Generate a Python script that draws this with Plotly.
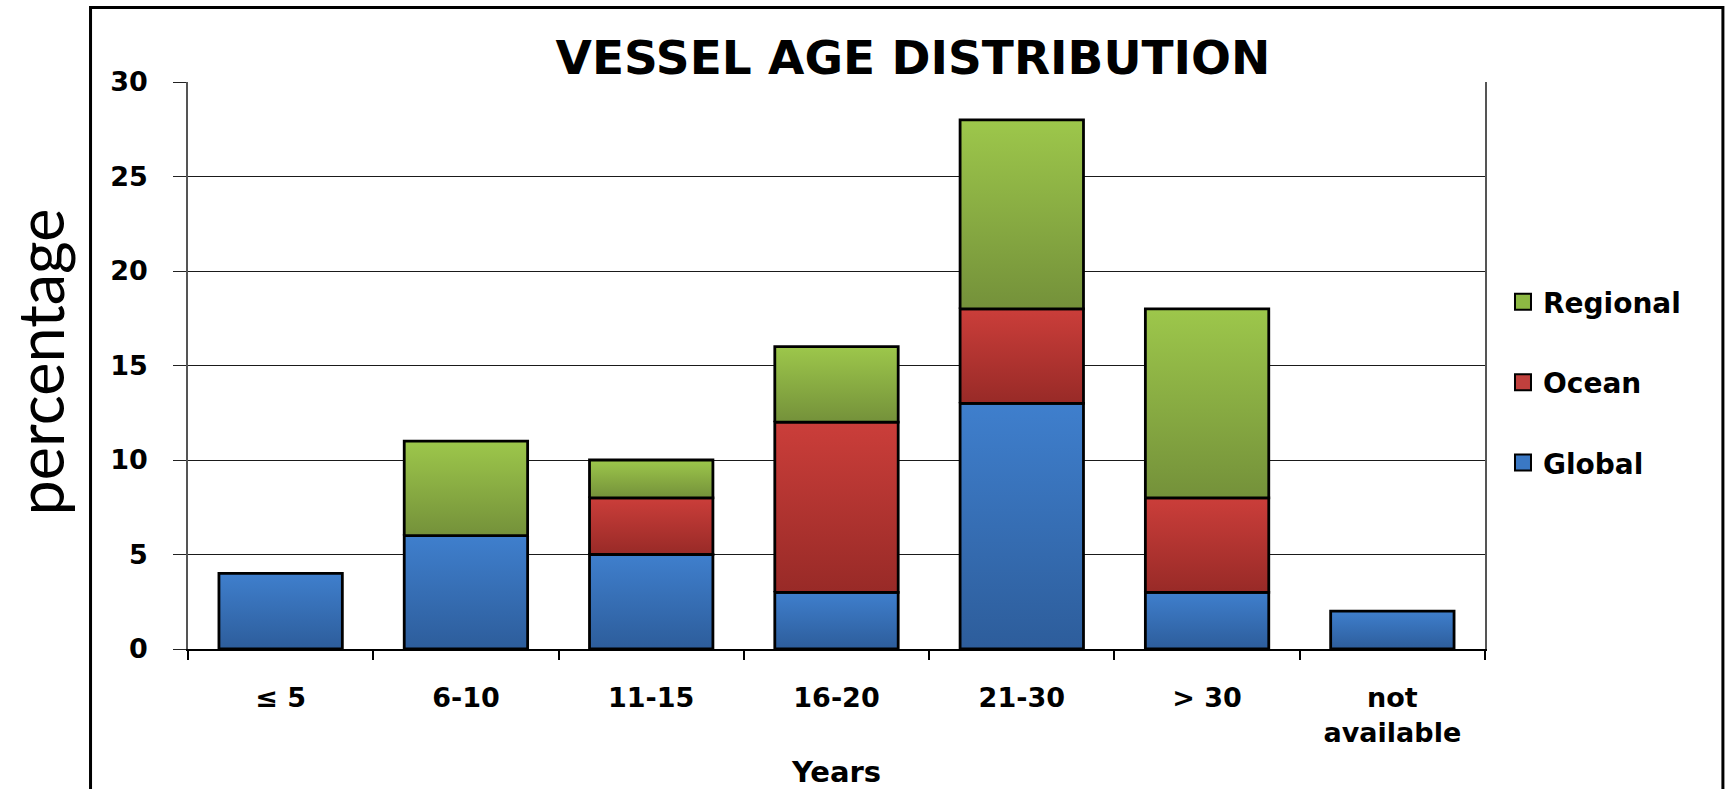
import plotly.graph_objects as go

# Age brackets and the share of vessels (%) in each, by vessel class
categories = ["≤ 5", "6-10", "11-15", "16-20", "21-30", "> 30", "not<br>available"]
global_pct = [4, 6, 5, 3, 13, 3, 2]
ocean_pct = [0, 0, 3, 9, 5, 5, 0]
regional_pct = [0, 5, 2, 4, 10, 10, 0]

series = [
    ("Global", global_pct, "#2D5D9B", "#3F7FCD", "#3A78C4"),
    ("Ocean", ocean_pct, "#982A27", "#CB3E3A", "#C0403D"),
    ("Regional", regional_pct, "#74913A", "#9DC74B", "#8DB943"),
]

W, H = 1729, 789
L, R, T, B = 187.5, 1485.0, 81.6, 649.5
BAR_W = 0.666
LABEL_FONT = "DejaVu Sans"

fig = go.Figure()

# Stacked segments as filled rectangles so each one can carry a vertical gradient
base = [0.0] * len(categories)
for name, vals, dark, light, _ in series:
    for i, v in enumerate(vals):
        if v <= 0:
            continue
        x0, x1 = i - BAR_W / 2, i + BAR_W / 2
        y0, y1 = base[i], base[i] + v
        fig.add_trace(go.Scatter(
            x=[x0, x1, x1, x0, x0], y=[y0, y0, y1, y1, y0],
            mode="lines", fill="toself",
            fillgradient=dict(type="vertical", colorscale=[[0, dark], [1, light]]),
            line=dict(color="black", width=2.8),
            name=name, legendgroup=name, showlegend=False,
            hoverinfo="text", text=f"{name}: {v}%",
        ))
        base[i] += v

# Legend entries (top to bottom: Regional, Ocean, Global)
for name, _, _, _, solid in reversed(series):
    fig.add_trace(go.Scatter(
        x=[None], y=[None], mode="markers", name=name, legendgroup=name,
        marker=dict(symbol="square", size=22, color=solid,
                    line=dict(color="black", width=2)),
    ))

pw, ph = R - L, B - T


def px_x(p):
    return (p - L) / pw


def px_y(p):
    return (B - p) / ph


fig.update_layout(
    width=W, height=H,
    margin=dict(l=L, r=W - R, t=T, b=H - B, autoexpand=False),
    paper_bgcolor="white", plot_bgcolor="white",
    showlegend=True,
    title=dict(text="VESSEL AGE DISTRIBUTION", x=913 / W, xanchor="center",
               y=1 - 58 / H, yanchor="middle",
               font=dict(family=LABEL_FONT, size=47, color="black", weight="bold")),
    legend=dict(x=px_x(1503), xanchor="left", y=px_y(277), yanchor="top",
                font=dict(family=LABEL_FONT, size=28, color="black", weight="bold"),
                tracegroupgap=41, traceorder="grouped", itemsizing="trace",
                bgcolor="rgba(0,0,0,0)"),
    xaxis=dict(
        range=[-0.5, len(categories) - 0.5],
        tickvals=list(range(len(categories))), ticktext=categories,
        ticks="", ticklabelstandoff=24, automargin=False,
        tickfont=dict(family=LABEL_FONT, size=27, color="black", weight="bold"),
        showline=True, linecolor="black", linewidth=1.5,
        showgrid=False, zeroline=False,
        minor=dict(tickvals=[k - 0.5 for k in range(len(categories) + 1)],
                   ticks="outside", ticklen=9, tickcolor="black", tickwidth=1.5),
        title=dict(text="Years", standoff=19,
                   font=dict(family=LABEL_FONT, size=29, color="black", weight="bold")),
        fixedrange=True,
    ),
    yaxis=dict(
        range=[0, 30], tickvals=[0, 5, 10, 15, 20, 25, 30],
        ticks="outside", ticklen=13, tickcolor="#222", tickwidth=1.4,
        ticklabelstandoff=20, automargin=False,
        tickfont=dict(family=LABEL_FONT, size=27, color="black", weight="bold"),
        showgrid=True, gridcolor="#1a1a1a", gridwidth=1.3,
        showline=True, linecolor="#555", linewidth=1.5, mirror=True,
        zeroline=False, fixedrange=True,
    ),
    annotations=[dict(
        text="percentage", xref="paper", yref="paper",
        x=px_x(39), y=px_y(362), xanchor="center", yanchor="middle",
        textangle=-90, showarrow=False,
        font=dict(family="Lato", size=63, color="black"),
    )],
    shapes=[dict(
        type="rect", xref="paper", yref="paper",
        x0=px_x(90), x1=px_x(1723), y0=px_y(830), y1=px_y(7),
        line=dict(color="black", width=3), fillcolor="rgba(0,0,0,0)", layer="above",
    )],
)

fig.write_html("out.html")
